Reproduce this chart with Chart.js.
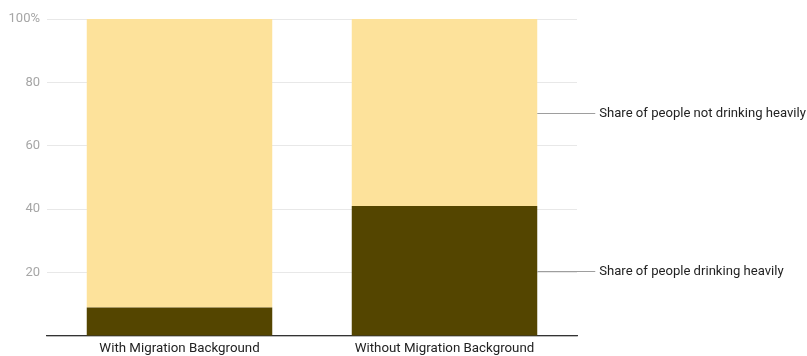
<!DOCTYPE html>
<html>
  <head>
    <title>Heavy drinking by migration background</title>
    <script src="https://cdn.jsdelivr.net/npm/chart.js"></script>
    <style>
      html, body { margin: 0; padding: 0; background: #fff; }
      #wrap { width: 807px; height: 356px; }
    </style>
  </head>
  <body>
    <div id="wrap"><canvas id="drinkChart"></canvas></div>
    <script>
      // data
      var categories = ["With Migration Background", "Without Migration Background"];
      var drinkingHeavily = [9, 41];
      var notDrinkingHeavily = [91, 59];
      var seriesNames = ["Share of people drinking heavily", "Share of people not drinking heavily"];
      var yTicks = [0, 20, 40, 60, 80, 100];

      // labels next to the last bar, pointing at the middle of each segment
      var sideLabels = {
        id: "sideLabels",
        afterDatasetsDraw: function (chart) {
          var ctx = chart.ctx;
          var last = categories.length - 1;
          ctx.save();
          chart.data.datasets.forEach(function (ds, i) {
            var bar = chart.getDatasetMeta(i).data[last];
            var midY = Math.round((bar.y + bar.base) / 2) + 0.5;
            var x0 = bar.x + bar.width / 2;
            ctx.strokeStyle = "#9e9e9e";
            ctx.lineWidth = 1;
            ctx.beginPath();
            ctx.moveTo(x0, midY);
            ctx.lineTo(x0 + 58, midY);
            ctx.stroke();
            ctx.fillStyle = "#222";
            ctx.font = "13.1px Roboto";
            ctx.textBaseline = "middle";
            ctx.fillText(ds.label, x0 + 62, midY);
          });
          ctx.restore();
        },
      };

      new Chart(document.getElementById("drinkChart"), {
        type: "bar",
        data: {
          labels: categories,
          datasets: [
            {
              label: seriesNames[0],
              data: drinkingHeavily,
              backgroundColor: "#544500",
            },
            {
              label: seriesNames[1],
              data: notDrinkingHeavily,
              backgroundColor: "#fde29b",
            },
          ],
        },
        options: {
          responsive: true,
          maintainAspectRatio: false,
          animation: false,
          barPercentage: 0.7,
          categoryPercentage: 1,
          layout: { padding: { top: 19, right: 230, bottom: 0, left: 0 } },
          plugins: {
            legend: { display: false },
            tooltip: { enabled: false },
          },
          scales: {
            x: {
              stacked: true,
              grid: { display: false, drawTicks: false },
              border: { display: true, color: "#333", width: 1.3 },
              ticks: { color: "#222", font: { family: "Roboto", size: 13.3 }, padding: 5 },
              afterFit: function (scale) { scale.height = 20; },
            },
            y: {
              stacked: true,
              min: 0,
              max: 100,
              afterBuildTicks: function (scale) {
                scale.ticks = yTicks.map(function (v) { return { value: v }; });
              },
              grid: { color: "#e8e8e8", drawTicks: false },
              border: { display: false },
              ticks: {
                color: "#a6a6a6",
                font: { family: "Roboto", size: 13 },
                padding: 7,
                callback: function (v) {
                  if (v === 0) return "";
                  return v === 100 ? "100%" : v;
                },
              },
              afterFit: function (scale) { scale.width = 47; },
            },
          },
        },
        plugins: [sideLabels],
      });
    </script>
  </body>
</html>
